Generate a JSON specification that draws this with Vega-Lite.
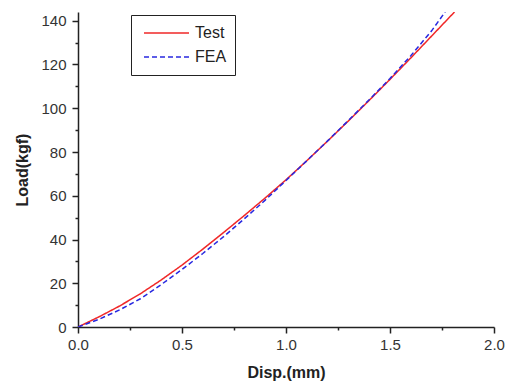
{
  "$schema": "https://vega.github.io/schema/vega-lite/v6.json",
  "width": 416,
  "height": 315,
  "autosize": {"type": "none"},
  "padding": {"left": 78, "top": 12, "right": 19, "bottom": 58},
  "background": "white",
  "config": {
    "view": {"stroke": null},
    "font": "Liberation Sans",
    "axis": {"grid": false, "labelFlush": false, "domainColor": "#222", "domainWidth": 1.5, "tickColor": "#222", "tickWidth": 1.5, "labelColor": "#333", "labelFont": "Liberation Sans", "labelFontSize": 15, "titleFont": "Liberation Sans", "titleFontSize": 16, "titleFontWeight": "bold", "titleColor": "#222"}
  },
  "data": {"values": [
    {"series": "Test", "disp": 0.0, "load": 0.0},
    {"series": "Test", "disp": 0.1, "load": 4.6},
    {"series": "Test", "disp": 0.2, "load": 9.6},
    {"series": "Test", "disp": 0.3, "load": 15.2},
    {"series": "Test", "disp": 0.4, "load": 21.5},
    {"series": "Test", "disp": 0.5, "load": 28.3},
    {"series": "Test", "disp": 0.6, "load": 35.6},
    {"series": "Test", "disp": 0.7, "load": 43.2},
    {"series": "Test", "disp": 0.8, "load": 51.0},
    {"series": "Test", "disp": 0.9, "load": 59.0},
    {"series": "Test", "disp": 1.0, "load": 67.3},
    {"series": "Test", "disp": 1.1, "load": 76.0},
    {"series": "Test", "disp": 1.2, "load": 85.0},
    {"series": "Test", "disp": 1.3, "load": 94.2},
    {"series": "Test", "disp": 1.4, "load": 103.6},
    {"series": "Test", "disp": 1.5, "load": 113.2},
    {"series": "Test", "disp": 1.6, "load": 123.0},
    {"series": "Test", "disp": 1.7, "load": 133.0},
    {"series": "Test", "disp": 1.81, "load": 144.0},
    {"series": "FEA", "disp": 0.0, "load": 0.0},
    {"series": "FEA", "disp": 0.1, "load": 3.5},
    {"series": "FEA", "disp": 0.2, "load": 7.8},
    {"series": "FEA", "disp": 0.3, "load": 12.9},
    {"series": "FEA", "disp": 0.4, "load": 19.4},
    {"series": "FEA", "disp": 0.5, "load": 26.3},
    {"series": "FEA", "disp": 0.6, "load": 33.6},
    {"series": "FEA", "disp": 0.7, "load": 41.3},
    {"series": "FEA", "disp": 0.8, "load": 49.5},
    {"series": "FEA", "disp": 0.9, "load": 58.0},
    {"series": "FEA", "disp": 1.0, "load": 67.0},
    {"series": "FEA", "disp": 1.1, "load": 76.0},
    {"series": "FEA", "disp": 1.2, "load": 85.1},
    {"series": "FEA", "disp": 1.3, "load": 94.4},
    {"series": "FEA", "disp": 1.4, "load": 103.9},
    {"series": "FEA", "disp": 1.5, "load": 113.6},
    {"series": "FEA", "disp": 1.6, "load": 124.0},
    {"series": "FEA", "disp": 1.7, "load": 135.4},
    {"series": "FEA", "disp": 1.765, "load": 144.0}
  ]},
  "mark": {"type": "line", "strokeWidth": 1.5, "clip": true},
  "encoding": {
    "x": {
      "field": "disp", "type": "quantitative",
      "scale": {"domain": [0, 2], "nice": false},
      "axis": {
        "title": "Disp.(mm)",
        "values": [0, 0.25, 0.5, 0.75, 1, 1.25, 1.5, 1.75, 2],
        "labelExpr": "abs(datum.value*2 - round(datum.value*2)) < 0.001 ? format(datum.value, '.1f') : ''",
        "tickSize": {"condition": {"test": "abs(datum.value*2 - round(datum.value*2)) < 0.001", "value": 6}, "value": 3},
        "labelPadding": 4,
        "titlePadding": 12
      }
    },
    "y": {
      "field": "load", "type": "quantitative",
      "scale": {"domain": [0, 144], "nice": false},
      "axis": {
        "title": "Load(kgf)",
        "values": [0, 10, 20, 30, 40, 50, 60, 70, 80, 90, 100, 110, 120, 130, 140],
        "labelExpr": "datum.value % 20 === 0 ? datum.label : ''",
        "tickSize": {"condition": {"test": "datum.value % 20 === 0", "value": 6}, "value": 3},
        "labelPadding": 6,
        "titlePadding": 10
      }
    },
    "color": {
      "field": "series", "type": "nominal",
      "scale": {"domain": ["Test", "FEA"], "range": ["#f02828", "#2828e0"]},
      "legend": {
        "title": null, "orient": "none", "legendX": 53, "legendY": 3,
        "symbolType": "stroke", "symbolSize": 2025, "symbolStrokeWidth": 1.5, "symbolOffset": 4,
        "clipHeight": 20,
        "labelFontSize": 16, "labelFont": "Liberation Sans", "labelColor": "#222",
        "labelOffset": 5, "strokeColor": "#222", "padding": 8, "rowPadding": 4, "fillColor": "white"
      }
    },
    "strokeDash": {
      "field": "series", "type": "nominal",
      "scale": {"domain": ["Test", "FEA"], "range": [[1, 0], [5, 3]]},
      "legend": null
    }
  }
}
